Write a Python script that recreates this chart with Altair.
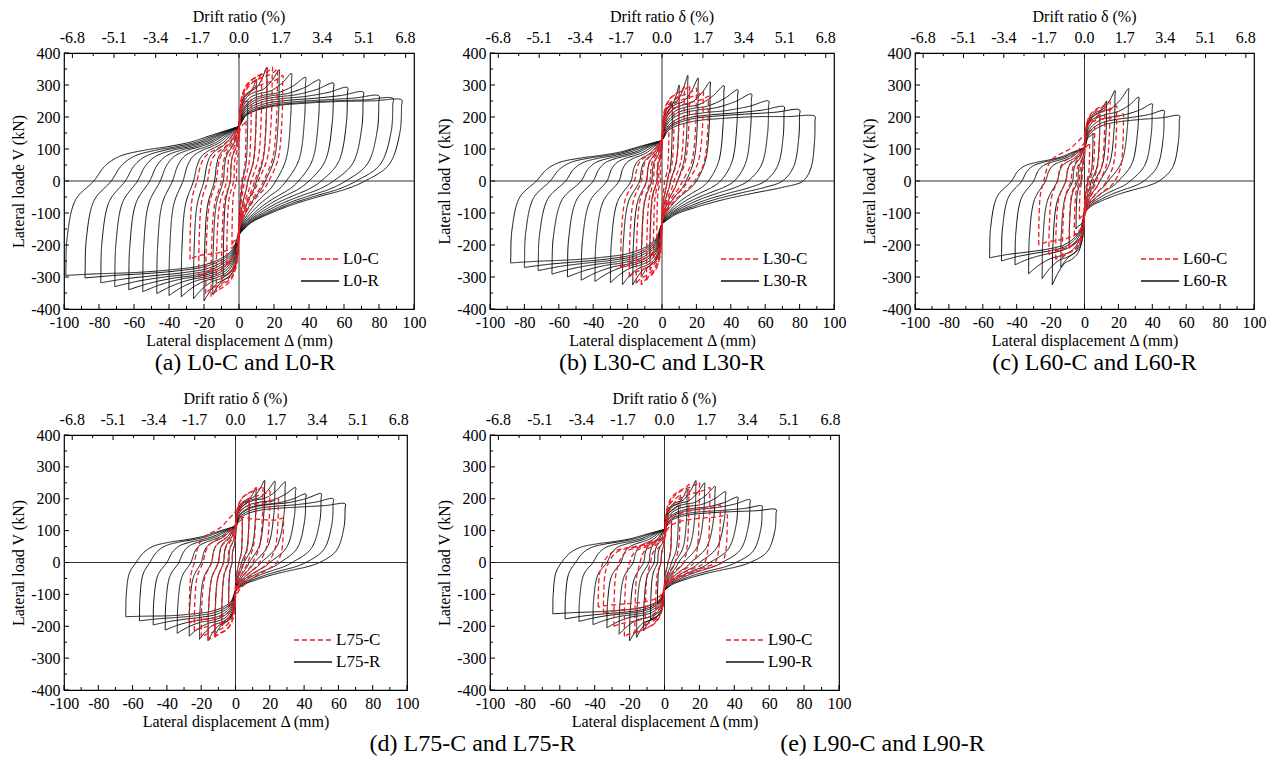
import altair as alt
import pandas as pd

FONT = "Liberation Serif"
RED = "#ec1c24"
BLACK = "#111111"

# Each cycle row:
# (pos. peak disp, pos. peak load, pos. zero-crossing disp, pinch load at 0 going negative,
#  neg. peak disp, neg. peak load, neg. zero-crossing disp, pinch load at 0 going positive)
L0_R = [
    (5, 250, 2, -140, -9, -300, -5, 150),
    (10, 318, 5, -160, -15, -355, -9, 165),
    (16, 356, 10, -168, -20, -375, -14, 172),
    (23, 348, 15, -168, -26, -368, -20, 172),
    (30, 336, 21, -168, -33, -362, -26, 172),
    (38, 324, 27, -168, -40, -358, -32, 172),
    (46, 316, 34, -168, -47, -352, -38, 172),
    (54, 306, 40, -168, -55, -346, -45, 172),
    (62, 292, 47, -168, -63, -340, -51, 172),
    (71, 278, 54, -168, -71, -330, -58, 172),
    (80, 266, 61, -168, -79, -318, -65, 172),
    (88, 258, 67, -168, -88, -303, -73, 172),
    (93, 253, 72, -168, -99, -295, -83, 172),
]
L0_C = [
    (4, 190, 1.5, -120, -4, -200, -1.5, 120),
    (7, 255, 3, -140, -7, -265, -3, 140),
    (10, 300, 5, -155, -10, -310, -5, 155),
    (13, 335, 7, -160, -13, -345, -7, 160),
    (16, 352, 9, -160, -16, -362, -10, 165),
    (19, 356, 11, -160, -19, -352, -13, 165),
    (22, 350, 14, -160, -23, -300, -18, 165),
    (25, 330, 17, -160, -28, -245, -24, 165),
]
L30_R = [
    (6, 240, 3, -110, -7, -240, -3, 105),
    (10, 300, 5, -125, -12, -300, -6, 120),
    (15, 330, 9, -135, -17, -325, -9, 128),
    (21, 322, 14, -135, -23, -324, -13, 128),
    (28, 310, 20, -135, -30, -318, -18, 128),
    (36, 298, 27, -135, -39, -314, -25, 128),
    (44, 285, 34, -135, -47, -310, -32, 128),
    (52, 272, 42, -135, -55, -300, -40, 128),
    (62, 250, 50, -135, -64, -291, -47, 128),
    (71, 232, 60, -135, -72, -280, -56, 128),
    (80, 222, 70, -135, -80, -270, -65, 128),
    (89, 202, 82, -135, -88, -256, -73, 128),
]
L30_C = [
    (4, 170, 1.5, -100, -3, -180, -1, 100),
    (7, 230, 3, -115, -5, -240, -2, 115),
    (10, 270, 5, -125, -7, -280, -3, 125),
    (13, 295, 7, -130, -9, -310, -5, 130),
    (16, 300, 9, -130, -12, -325, -7, 130),
    (20, 290, 12, -130, -15, -320, -9, 130),
    (24, 280, 15, -130, -19, -300, -12, 130),
    (27, 265, 19, -130, -24, -270, -16, 130),
]
L60_R = [
    (5, 150, 2, -80, -5, -150, -2, 80),
    (9, 210, 4, -95, -9, -210, -4, 95),
    (13, 250, 6, -100, -14, -270, -7, 105),
    (18, 283, 9, -100, -19, -325, -11, 105),
    (26, 289, 14, -100, -25, -305, -16, 105),
    (32, 262, 20, -100, -33, -290, -23, 105),
    (40, 241, 27, -100, -41, -262, -30, 105),
    (47, 220, 35, -100, -49, -250, -37, 105),
    (56, 204, 44, -100, -56, -240, -43, 105),
]
L60_C = [
    (3, 120, 1.5, -70, -3, -120, -1.5, 70),
    (6, 170, 3, -85, -6, -170, -3, 85),
    (9, 210, 5, -95, -9, -210, -5, 95),
    (12, 240, 7, -100, -13, -240, -8, 105),
    (15, 250, 9, -105, -17, -245, -11, 110),
    (19, 235, 13, -110, -21, -230, -16, 120),
    (23, 210, 18, -110, -27, -200, -24, 145),
]
L75_R = [
    (4, 140, 2, -70, -4, -140, -2, 75),
    (8, 195, 3.5, -85, -8, -195, -4, 95),
    (12, 235, 5, -90, -12, -230, -7, 110),
    (17, 258, 8, -90, -16, -245, -10, 115),
    (23, 255, 11, -90, -21, -241, -14, 115),
    (29, 253, 15, -90, -27, -231, -20, 115),
    (35, 235, 20, -90, -34, -222, -26, 115),
    (41, 215, 26, -90, -41, -212, -33, 115),
    (50, 216, 33, -90, -48, -196, -40, 115),
    (57, 200, 41, -90, -56, -183, -50, 115),
    (64, 184, 49, -90, -64, -170, -58, 115),
]
L75_C = [
    (4, 140, 2, -75, -4, -140, -2, 75),
    (8, 200, 4.5, -90, -8, -200, -4.5, 90),
    (12, 235, 7, -95, -12, -235, -7, 100),
    (16, 240, 10, -100, -16, -245, -10, 110),
    (20, 225, 14, -100, -20, -235, -14, 115),
    (25, 200, 19, -100, -24, -215, -19, 120),
    (28, 140, 24, -110, -27, -190, -24, 160),
]
L90_R = [
    (4, 130, 2, -70, -4, -130, -2, 70),
    (8, 180, 4, -80, -8, -180, -4, 85),
    (13, 230, 6, -88, -12, -215, -6, 100),
    (18, 257, 8, -88, -16, -235, -9, 105),
    (23, 250, 11, -88, -20, -246, -12, 105),
    (29, 239, 15, -88, -26, -225, -18, 105),
    (35, 222, 20, -88, -33, -205, -25, 105),
    (42, 205, 26, -88, -41, -195, -33, 105),
    (49, 197, 33, -88, -49, -185, -41, 105),
    (56, 177, 41, -88, -57, -177, -51, 105),
    (64, 166, 49, -88, -64, -161, -59, 105),
]
L90_C = [
    (4, 150, 2, -60, -5, -150, -2, 60),
    (9, 215, 6, -70, -11, -200, -8, 70),
    (14, 245, 11, -75, -17, -225, -14, 80),
    (20, 252, 17, -80, -23, -232, -20, 80),
    (26, 235, 23, -80, -29, -200, -26, 80),
    (32, 180, 29, -80, -35, -160, -32, 80),
    (36, 150, 33, -80, -38, -140, -35, 80),
]

# load level of the dense band that the reloading branches of the R specimens follow
# (positive side, negative side)
BAND = {"L0-R": (245, -280), "L30-R": (200, -240), "L60-R": (185, -210),
        "L75-R": (168, -165), "L90-R": (155, -150)}

X_MAJOR = [-100, -80, -60, -40, -20, 0, 20, 40, 60, 80, 100]
X_MINOR = [-90, -70, -50, -30, -10, 10, 30, 50, 70, 90]
Y_MAJOR = [-400, -300, -200, -100, 0, 100, 200, 300, 400]
Y_MINOR = [-350, -250, -150, -50, 50, 150, 250, 350]
D_MAJOR = [-6.8, -5.1, -3.4, -1.7, 0.0, 1.7, 3.4, 5.1, 6.8]
D_MINOR = [-5.95, -4.25, -2.55, -0.85, 0.85, 2.55, 4.25, 5.95]
MM_PER_PCT = 14.0  # lateral displacement (mm) per 1 % drift ratio

# shape of the branches between the key points of one cycle
UL = [(0.92, 0.28), (0.82, 0.45), (0.65, 0.56), (0.5, 0.62), (0.33, 0.71), (0.17, 0.85), (0.05, 0.95)]
LR = [(0.85, 0.15), (0.65, 0.28), (0.45, 0.42), (0.25, 0.6), (0.1, 0.77), (0.03, 0.92)]
ENV_C = [(0.05, 0.4), (0.12, 0.62), (0.3, 0.82), (0.55, 0.93), (0.8, 1.0), (0.92, 1.0)]
ENV_R = [(0.04, 0.4), (0.1, 0.62), (0.22, 0.82), (0.4, 0.93), (0.6, 1.0)]


def reload(P, d, V, band):
    if band is None or abs(V) <= abs(band):
        Be = 0.95 * V
        pts = [(a * d, P + b * (Be - P)) for a, b in ENV_C[:-1]]
        pts += [(0.92 * d, Be + 0.5 * (V - Be))]
    else:
        Be = band + 0.4 * (V - band)
        pts = [(a * d, P + b * (Be - P)) for a, b in ENV_R]
        pts += [(0.82 * d, Be + 0.45 * (V - Be))]
    return pts + [(d, V)]


def loop_points(c, band):
    dp, Vp, xp0, Pn, dn, Vn, xn0, Pp = c
    bp, bn = band if band else (None, None)
    gn, gp = xn0 - dn, dp - xp0
    pts = [(dn, Vn), (dn + 0.005 * gn, 0.93 * Vn), (dn + 0.05 * gn, 0.6 * Vn),
           (dn + 0.35 * gn, 0.2 * Vn), (xn0, 0)]
    pts += [(a * xn0, b * Pp) for a, b in UL]
    pts += [(0, Pp)]
    pts += reload(Pp, dp, Vp, bp)
    pts += [(dp - 0.005 * gp, 0.93 * Vp), (dp - 0.05 * gp, 0.6 * Vp),
            (dp - 0.35 * gp, 0.2 * Vp), (xp0, 0)]
    pts += [(a * xp0, b * Pn) for a, b in LR]
    pts += [(0, Pn)]
    pts += reload(Pn, dn, Vn, bn)
    return pts


def build_df(name, cycles):
    rows = []
    band = BAND.get(name)
    for k, c in enumerate(cycles):
        for i, (x, y) in enumerate(loop_points(c, band)):
            rows.append({"series": name, "cyc": f"{name}-{k}", "i": i, "x": x, "y": y})
    return pd.DataFrame(rows)


PANELS = [
    dict(cname="L0-C", rname="L0-R", C=L0_C, R=L0_R, ytitle="Lateral loade V (kN)",
         top="Drift ratio (%)", cap="(a) L0-C and L0-R", w=350, h=256, dx=6),
    dict(cname="L30-C", rname="L30-R", C=L30_C, R=L30_R, ytitle="Lateral load V (kN)",
         top="Drift ratio δ (%)", cap="(b) L30-C and L30-R", w=344, h=256, dx=0),
    dict(cname="L60-C", rname="L60-R", C=L60_C, R=L60_R, ytitle="Lateral load V (kN)",
         top="Drift ratio δ (%)", cap="(c) L60-C and L60-R", w=339, h=256, dx=10),
    dict(cname="L75-C", rname="L75-R", C=L75_C, R=L75_R, ytitle="Lateral load V (kN)",
         top="Drift ratio δ (%)", cap="(d) L75-C and L75-R", w=343, h=255, dx=237),
    dict(cname="L90-C", rname="L90-R", C=L90_C, R=L90_R, ytitle="Lateral load V (kN)",
         top="Drift ratio δ (%)", cap="(e) L90-C and L90-R", w=349, h=255, dx=218),
]

XS = alt.Scale(domain=[-100, 100], nice=False, zero=False)
YS = alt.Scale(domain=[-400, 400], nice=False, zero=False)


def panel(p):
    W, H = p["w"], p["h"]
    yaxis = alt.Axis(values=Y_MAJOR, title=p["ytitle"], labelExpr="'' + datum.value",
                     labelPadding=4, titlePadding=4, labelFlush=False, labelOverlap=False)
    xaxis = alt.Axis(orient="bottom", values=X_MAJOR, title="Lateral displacement Δ (mm)",
                     labelExpr="'' + datum.value", labelPadding=5, titlePadding=2,
                     labelOverlap=False, labelFlush=False)
    dom = [p["cname"], p["rname"]]
    color = alt.Color("series:N", scale=alt.Scale(domain=dom, range=[RED, BLACK]), legend=None)
    dash = alt.StrokeDash("series:N", scale=alt.Scale(domain=dom, range=[[5, 3], [1, 0]]), legend=None)

    zero_v = alt.Chart(pd.DataFrame({"x": [0]})).mark_rule(color="#333", strokeWidth=1).encode(
        x=alt.X("x:Q", scale=XS, axis=xaxis))
    zero_h = alt.Chart(pd.DataFrame({"y": [0]})).mark_rule(color="#333", strokeWidth=1).encode(
        y=alt.Y("y:Q", scale=YS, axis=yaxis))

    def loops(df, sw):
        return alt.Chart(df).mark_line(interpolate="catmull-rom", strokeWidth=sw).encode(
            x=alt.X("x:Q", scale=XS, axis=xaxis),
            y=alt.Y("y:Q", scale=YS, axis=yaxis),
            color=color, strokeDash=dash, detail="cyc:N", order="i:Q")

    r_layer = loops(build_df(p["rname"], p["R"]), 1.0)
    c_layer = loops(build_df(p["cname"], p["C"]), 1.3)

    def xticks(vals, y0, y1, factor=1.0):
        return alt.Chart(pd.DataFrame({"v": vals})).transform_calculate(
            mm=f"datum.v * {factor}").mark_rule(color="black", strokeWidth=1).encode(
            x=alt.X("mm:Q", scale=XS, axis=xaxis), y=alt.value(y0), y2=alt.value(y1))

    def yticks(vals, length):
        return alt.Chart(pd.DataFrame({"v": vals})).mark_rule(color="black", strokeWidth=1).encode(
            y=alt.Y("v:Q", scale=YS, axis=yaxis), x=alt.value(0), x2=alt.value(length))

    # top (drift ratio) axis labels and title
    top_labels = alt.Chart(pd.DataFrame({"v": D_MAJOR})).transform_calculate(
        mm=f"datum.v * {MM_PER_PCT}",
        lab="(datum.v < 0 ? '-' : '') + format(abs(datum.v), '.1f')",
    ).mark_text(font=FONT, fontSize=16, color="black", baseline="middle").encode(
        x=alt.X("mm:Q", scale=XS, axis=xaxis), y=alt.value(-15), text="lab:N")
    top_title = alt.Chart(pd.DataFrame({"t": [p["top"]]})).mark_text(
        font=FONT, fontSize=16, color="black", baseline="middle").encode(
        x=alt.value(W / 2), y=alt.value(-36), text="t:N")

    # legend drawn inside the plot (bottom right)
    legend_layers = []
    for name, yy in [(p["cname"], H - 50), (p["rname"], H - 28)]:
        d = pd.DataFrame({"series": [name]})
        legend_layers.append(alt.Chart(d).mark_rule(strokeWidth=1.4).encode(
            x=alt.value(W - 113), x2=alt.value(W - 75), y=alt.value(yy),
            color=color, strokeDash=dash))
        legend_layers.append(alt.Chart(d).mark_text(
            font=FONT, fontSize=17, color="black", align="left", baseline="middle").encode(
            x=alt.value(W - 71), y=alt.value(yy), text="series:N"))

    layers = [
        zero_v, zero_h, r_layer, c_layer,
        xticks(X_MAJOR, H, H - 5), xticks(X_MINOR, H, H - 3),
        yticks(Y_MAJOR, 5), yticks(Y_MINOR, 3),
        xticks(D_MAJOR, 0, 5, MM_PER_PCT), xticks(D_MINOR, 0, 3, MM_PER_PCT),
        top_labels, top_title,
    ] + legend_layers
    return alt.layer(*layers).properties(
        width=W, height=H,
        title=alt.TitleParams(text=p["cap"], orient="bottom", anchor="middle", font=FONT,
                              fontSize=24, fontWeight="normal", color="black", offset=3, dx=p["dx"]))


charts = [panel(p) for p in PANELS]
chart = alt.concat(*charts, columns=3, spacing={"row": 126, "column": 76}, bounds="flush").resolve_scale(
    color="independent", strokeDash="independent"
).configure(
    background="white", padding={"left": 10, "top": 8, "right": 5, "bottom": 5}
).configure_view(stroke="black", strokeWidth=1.2).configure_axis(
    ticks=False, domain=False, grid=False, labelFont=FONT, labelFontSize=16, labelColor="black",
    titleFont=FONT, titleFontSize=16, titleFontWeight="normal", titleColor="black"
)

chart.save("out.html", embed_options={"renderer": "svg", "actions": False})
